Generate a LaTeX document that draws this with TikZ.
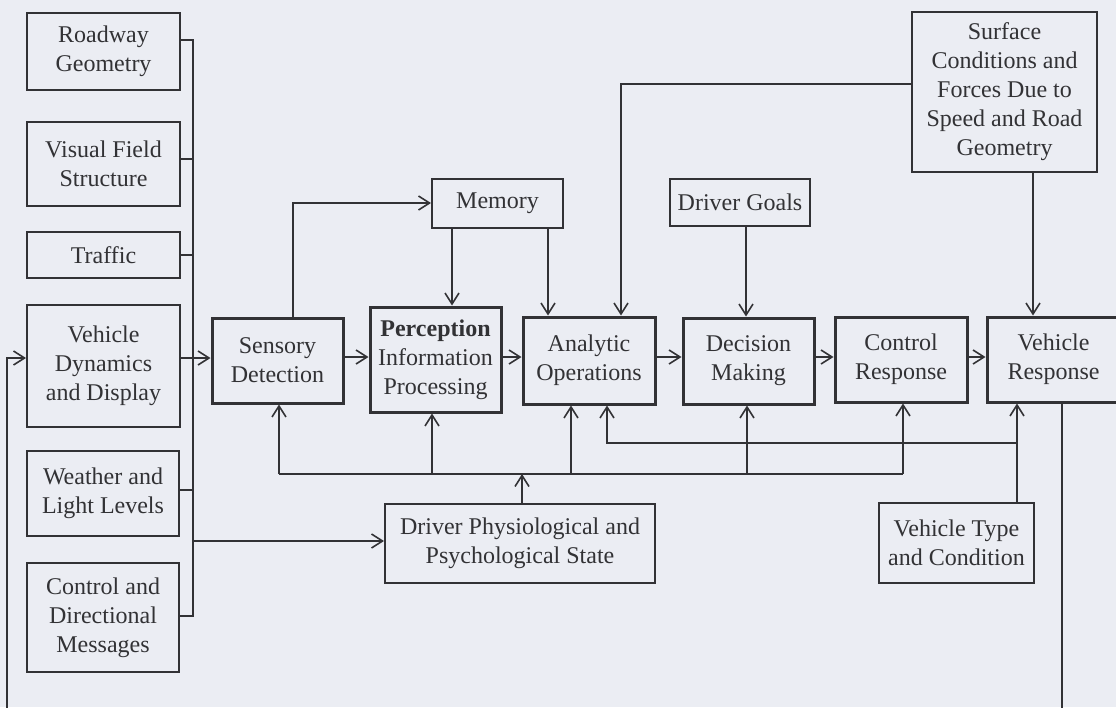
\documentclass[tikz,border=0pt]{standalone}
\usepackage{fontspec}
\setmainfont{Liberation Serif}
\usetikzlibrary{arrows.meta,calc}
\definecolor{bg}{RGB}{235,237,243}
\definecolor{ink}{RGB}{50,50,53}
\begin{document}
\begin{tikzpicture}[x=1pt,y=-1pt,
 box/.style={draw=ink,line width=2pt,text=ink,align=center,inner sep=0pt,font=\fontsize{24}{29}\selectfont},
 mainbox/.style={box,line width=3pt},
 conn/.style={draw=ink,line width=1.6pt},
 arr/.style={conn,-{Straight Barb[length=11pt,width=14pt,line width=1.6pt]}}]
\fill[bg] (0,0) rectangle (1116,707);
\useasboundingbox (0,0) rectangle (1116,707);
% left column
\node[box,minimum width=153pt,minimum height=77pt] (road) at (103.5,51.5) {Roadway\\Geometry};
\node[box,minimum width=153pt,minimum height=84pt] (visual) at (103.5,164) {Visual Field\\Structure};
\node[box,minimum width=153pt,minimum height=46pt] (traffic) at (103.5,255) {Traffic};
\node[box,minimum width=153pt,minimum height=122pt] (vdyn) at (103.5,366) {Vehicle\\Dynamics\\and Display};
\node[box,minimum width=152pt,minimum height=85pt] (weather) at (103,493.5) {Weather and\\Light Levels};
\node[box,minimum width=152pt,minimum height=109pt] (cmsg) at (103,617.5) {Control and\\Directional\\Messages};
% main row
\node[mainbox,minimum width=131pt,minimum height=85pt] (sensory) at (277.5,360.5) {Sensory\\Detection};
\node[mainbox,minimum width=131pt,minimum height=105pt] (percep) at (435.5,359.5) {\textbf{Perception}\\Information\\Processing};
\node[mainbox,minimum width=132pt,minimum height=87pt] (analytic) at (589,360.5) {Analytic\\Operations};
\node[mainbox,minimum width=131pt,minimum height=86pt] (decision) at (748.5,361) {Decision\\Making};
\node[mainbox,minimum width=132pt,minimum height=85pt] (ctrlresp) at (901,359.5) {Control\\Response};
\node[mainbox,minimum width=133pt,minimum height=85pt] (vresp) at (1053.5,359.5) {Vehicle\\Response};
% upper boxes
\node[box,minimum width=131pt,minimum height=49pt] (memory) at (497.5,203.5) {Memory};
\node[box,minimum width=140pt,minimum height=47pt] (goals) at (740,202.5) {Driver Goals};
\node[box,minimum width=185pt,minimum height=160pt] (surface) at (1004.5,92) {Surface\\Conditions and\\Forces Due to\\Speed and Road\\Geometry};
% lower boxes
\node[box,minimum width=270pt,minimum height=79pt] (physio) at (520,543.5) {Driver Physiological and\\Psychological State};
\node[box,minimum width=155pt,minimum height=80pt] (vtype) at (956.5,543) {Vehicle Type\\and Condition};
% collector
\coordinate (cTop) at (193,40);
\coordinate (cVis) at (193,159);
\coordinate (cTra) at (193,255);
\coordinate (cDyn) at (193,358);
\coordinate (cWea) at (193,490);
\coordinate (cPhy) at (193,541);
\coordinate (cBot) at (193,616);
\draw[conn] (road.east |- cTop) -- (cTop) -- (cBot) -- (cmsg.east |- cBot);
\draw[conn] (visual.east |- cVis) -- (cVis);
\draw[conn] (traffic.east |- cTra) -- (cTra);
\draw[conn] (vdyn.east |- cDyn) -- (cDyn);
\draw[conn] (weather.east |- cWea) -- (cWea);
\draw[arr] (cDyn) -- (sensory.west |- cDyn);
\draw[arr] (cPhy) -- (physio.west |- cPhy);
% sensory to memory
\coordinate (sm) at (293,203);
\draw[arr] (sensory.north -| sm) -- (sm) -- (memory.west |- sm);
\coordinate (mp) at (452,0);
\coordinate (ma) at (548,0);
\draw[arr] (memory.south -| mp) -- (percep.north -| mp);
\draw[arr] (memory.south -| ma) -- (analytic.north -| ma);
% row arrows
\coordinate (row) at (0,357);
\draw[arr] (sensory.east |- row) -- (percep.west |- row);
\draw[arr] (percep.east |- row) -- (analytic.west |- row);
\draw[arr] (analytic.east |- row) -- (decision.west |- row);
\draw[arr] (decision.east |- row) -- (ctrlresp.west |- row);
\draw[arr] (ctrlresp.east |- row) -- (vresp.west |- row);
% surface
\coordinate (sa) at (621,84);
\draw[arr] (surface.west |- sa) -- (sa) -- (analytic.north -| sa);
\coordinate (sv) at (1033,0);
\draw[arr] (surface.south -| sv) -- (vresp.north -| sv);
% goals
\coordinate (gd) at (746,0);
\draw[arr] (goals.south -| gd) -- (decision.north -| gd);
% driver state bus
\coordinate (pb) at (522,474);
\draw[arr] (physio.north -| pb) -- (pb);
\coordinate (bA1) at (279,474);
\coordinate (bA2) at (903,474);
\coordinate (bAp) at (432,474);
\coordinate (bAa) at (571,474);
\coordinate (bAd) at (747,474);
\draw[conn] (bA1) -- (bA2);
\draw[arr] (bA1) -- (sensory.south -| bA1);
\draw[arr] (bAp) -- (percep.south -| bAp);
\draw[arr] (bAa) -- (analytic.south -| bAa);
\draw[arr] (bAd) -- (decision.south -| bAd);
\draw[arr] (bA2) -- (ctrlresp.south -| bA2);
% vehicle type bus
\coordinate (bB1) at (607,443);
\coordinate (bB2) at (1017,443);
\draw[arr] (vtype.north -| bB2) -- (vresp.south -| bB2);
\draw[arr] (bB2) -- (bB1) -- (analytic.south -| bB1);
% feedback loop
\coordinate (fbR) at (1062,720);
\draw[conn] (vresp.south -| fbR) -- (fbR);
\coordinate (fbL) at (7,720);
\coordinate (fbL2) at (7,358);
\draw[arr] (fbL) -- (fbL2) -- (vdyn.west |- fbL2);
\end{tikzpicture}
\end{document}
